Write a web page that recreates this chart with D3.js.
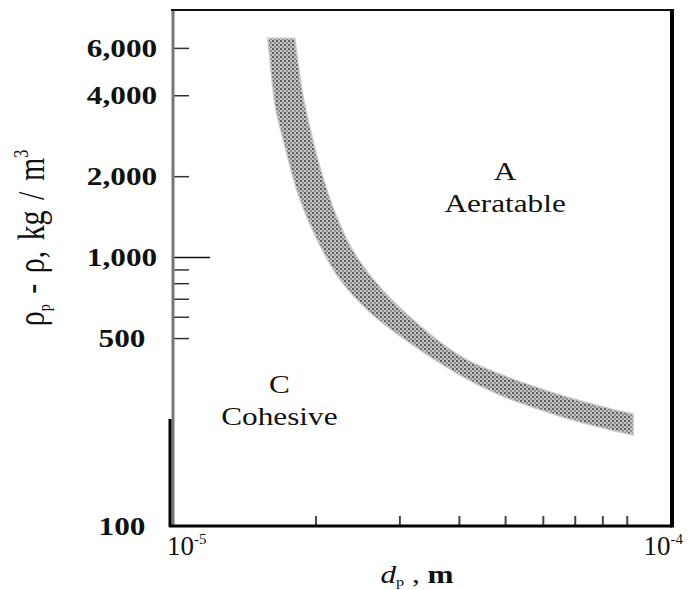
<!DOCTYPE html>
<html>
<head>
<meta charset="utf-8">
<script src="https://cdn.jsdelivr.net/npm/d3@7"></script>
<style>
body { margin: 0; background: #fff; }
text { font-family: "Liberation Serif", "Times New Roman", serif; fill: #111; }
</style>
</head>
<body>
<svg id="chart" width="693" height="590"></svg>
<script>
var svg = d3.select("#chart")
var width = +svg.attr("width"), height = +svg.attr("height")
var margin = {left: 172, right: 21, top: 10, bottom: 64}
var sx = 1.25 // the scanned figure is stretched sideways

// Data: the band between the C (cohesive) and A (aeratable) regions
var innerDp  = [1.59e-5, 1.62e-5, 1.65e-5, 1.73e-5, 1.84e-5, 2.0e-5, 2.25e-5, 2.6e-5, 3.01e-5, 4.02e-5, 4.88e-5, 6.52e-5, 7.91e-5, 9.28e-5]
var innerRho = [6520, 4630, 3580, 2540, 1715, 1197, 828, 625, 509, 364, 307, 256, 233, 218]
var outerDp  = [1.81e-5, 1.88e-5, 1.95e-5, 2.05e-5, 2.18e-5, 2.36e-5, 2.6e-5, 3.01e-5, 4.02e-5, 4.88e-5, 6.52e-5, 7.91e-5, 9.28e-5]
var outerRho = [6520, 4040, 2990, 2120, 1520, 1108, 857, 646, 429, 367, 307, 279, 261]

// Axes
var yTickValues = [100, 500, 1000, 2000, 4000, 6000]
var yTickLabels = ["100", "500", "1,000", "2,000", "4,000", "6,000"]
var yMinorTicks = [500, 600, 700, 800, 900, 2000, 4000, 6000]
var yMajorTicks = [1000]
var xMinorTicks = [2e-5, 3e-5, 4e-5, 5e-5, 6e-5, 7e-5, 8e-5, 9e-5]
var xTickValues = [1e-5, 1e-4]
var xTickExps = ["-5", "-4"]

// Region labels
var regionLetters = ["A", "C"]
var regionNames = ["Aeratable", "Cohesive"]
var regionDp = [5.0e-5, 1.68e-5]
var regionRho = [1470, 237]

var x = d3.scaleLog().domain([1e-5, 1.12e-4]).range([margin.left, width - margin.right])
var y = d3.scaleLog().domain([100, 8300]).range([height - margin.bottom, margin.top])

// stipple pattern for the band
var defs = svg.append("defs")
var pat = defs.append("pattern").attr("id", "stipple")
    .attr("width", 4).attr("height", 4).attr("patternUnits", "userSpaceOnUse")
pat.append("rect").attr("width", 4).attr("height", 4).attr("fill", "#c4c4c4")
pat.append("rect").attr("width", 2).attr("height", 2).attr("fill", "#5e5e5e")
pat.append("rect").attr("x", 2).attr("y", 2).attr("width", 2).attr("height", 2).attr("fill", "#8c8c8c")

var line = d3.line().x(d => x(d[0])).y(d => y(d[1])).curve(d3.curveCatmullRom.alpha(0.5))
var outerPts = outerDp.map((d, i) => [d, outerRho[i]])
var innerPts = innerDp.map((d, i) => [d, innerRho[i]]).reverse()
var bandPath = line(outerPts) + "L" + line(innerPts).substring(1) + "Z"
svg.append("path").attr("d", bandPath)
    .attr("fill", "url(#stipple)")
    .attr("stroke", "#c8c8c8").attr("stroke-width", 1.5)

// ticks
svg.append("g").attr("transform", `translate(${margin.left},0)`)
    .call(d3.axisLeft(y).tickValues(yMinorTicks).tickSize(-17).tickFormat(""))
    .call(g => g.select(".domain").remove())
    .selectAll("line").attr("stroke", "#333").attr("stroke-width", 1.5)
svg.append("g").attr("transform", `translate(${margin.left},0)`)
    .call(d3.axisLeft(y).tickValues(yMajorTicks).tickSize(-38).tickFormat(""))
    .call(g => g.select(".domain").remove())
    .selectAll("line").attr("stroke", "#111").attr("stroke-width", 1.5)
svg.append("g").attr("transform", `translate(0,${height - margin.bottom})`)
    .call(d3.axisBottom(x).tickValues(xMinorTicks).tickSize(-10).tickFormat(""))
    .call(g => g.select(".domain").remove())
    .selectAll("line").attr("stroke", "#444").attr("stroke-width", 2)

// frame
var x0 = margin.left, x1 = width - margin.right, y0 = margin.top, y1 = height - margin.bottom
svg.append("line").attr("x1", x0 + 1).attr("x2", x0 + 1).attr("y1", y0).attr("y2", y1)
    .attr("stroke", "#777").attr("stroke-width", 3)
svg.append("line").attr("x1", x0 - 2).attr("x2", x0 - 2).attr("y1", y(250)).attr("y2", y1 + 1)
    .attr("stroke", "#000").attr("stroke-width", 3)
svg.append("line").attr("x1", x0 - 1).attr("x2", x1).attr("y1", y0).attr("y2", y0)
    .attr("stroke", "#111").attr("stroke-width", 2)
svg.append("line").attr("x1", x0 - 3).attr("x2", x1).attr("y1", y1).attr("y2", y1)
    .attr("stroke", "#000").attr("stroke-width", 3)
svg.append("line").attr("x1", x1).attr("x2", x1).attr("y1", y0 - 1).attr("y2", y1 + 1.5)
    .attr("stroke", "#000").attr("stroke-width", 4)

// y tick labels (centred column, like the scan)
svg.selectAll(".ylab").data(yTickValues).enter().append("text")
    .attr("class", "ylab")
    .attr("transform", d => `translate(122,${y(d) + 9}) scale(${sx},1)`)
    .attr("text-anchor", "middle")
    .style("font-size", "25px").style("font-weight", "bold")
    .text((d, i) => yTickLabels[i])

// x tick labels 10^-5, 10^-4
var xl = svg.selectAll(".xlab").data(xTickValues).enter().append("text")
    .attr("class", "xlab")
    .attr("transform", d => `translate(${x(d) - 5},${y1 + 29})`)
    .style("font-size", "27px")
xl.append("tspan").text("10")
xl.append("tspan").attr("dy", -11).style("font-size", "15px").text((d, i) => xTickExps[i])

// x axis title
var xt = svg.append("text")
    .attr("transform", `translate(${(x0 + x1) / 2 - 5},${height - 7}) scale(${sx},1)`)
    .attr("text-anchor", "middle").style("font-size", "25px")
xt.append("tspan").style("font-style", "italic").text("d")
xt.append("tspan").attr("dy", 3).style("font-size", "13px").text("p")
xt.append("tspan").attr("dy", -3).text(" ,  ")
xt.append("tspan").style("font-weight", "bold").text("m")

// y axis title
var yt = svg.append("text")
    .attr("transform", `translate(44,${238}) rotate(-90) scale(1,${sx})`)
    .attr("text-anchor", "middle").style("font-size", "30px")
    .style("word-spacing", "3px")
yt.append("tspan").text("ρ")
yt.append("tspan").attr("dy", 5).style("font-size", "14px").text("p")
yt.append("tspan").attr("dy", -5).text(" - ρ,  kg / m")
yt.append("tspan").attr("dy", -13).style("font-size", "16px").text("3")

// region labels
var reg = svg.selectAll(".region").data(regionLetters).enter().append("g")
    .attr("class", "region")
    .attr("transform", (d, i) => `translate(${x(regionDp[i])},${y(regionRho[i])})`)
reg.append("text").attr("transform", `translate(0,-32) scale(${sx},1)`)
    .attr("text-anchor", "middle").style("font-size", "25px").text(d => d)
reg.append("text").attr("transform", `scale(${sx},1)`)
    .attr("text-anchor", "middle").style("font-size", "25px").text((d, i) => regionNames[i])
</script>
</body>
</html>
